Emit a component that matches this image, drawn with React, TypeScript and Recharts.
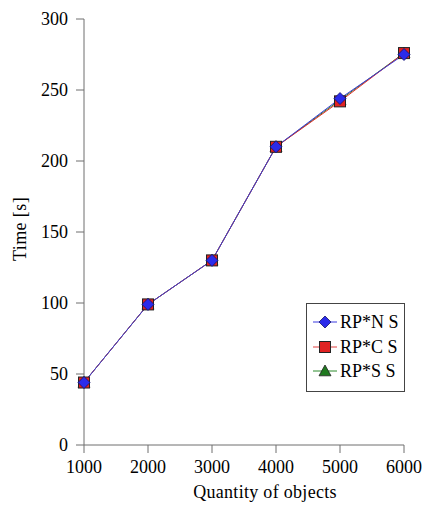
import React from 'react';
import { LineChart, Line, XAxis, YAxis } from 'recharts';

const quantities = [1000, 2000, 3000, 4000, 5000, 6000];
const rpNS = [44, 99, 130, 210, 244, 275];
const rpCS = [44, 99, 130, 210, 242, 276];
const rpSS = [44, 99, 130, 210, 243, 276];
const xTicks = [1000, 2000, 3000, 4000, 5000, 6000];
const yTicks = [0, 50, 100, 150, 200, 250, 300];

const data = quantities.map((q, i) => ({ qty: q, ns: rpNS[i], cs: rpCS[i], ss: rpSS[i] }));

const FONT = '"Liberation Serif", serif';
const AXIS = '#6e6e6e';

const Diamond = (props: any) => {
  const { cx, cy } = props;
  if (cx == null || cy == null) return null;
  const r = 6;
  return (
    <path
      d={`M${cx},${cy - r} L${cx + r},${cy} L${cx},${cy + r} L${cx - r},${cy} Z`}
      fill="#2b2bea"
      stroke="#14146a"
      strokeWidth={0.8}
    />
  );
};

const Square = (props: any) => {
  const { cx, cy } = props;
  if (cx == null || cy == null) return null;
  const r = 5.5;
  return <rect x={cx - r} y={cy - r} width={r * 2} height={r * 2} fill="#e02222" stroke="#222" strokeWidth={1} />;
};

const Triangle = (props: any) => {
  const { cx, cy } = props;
  if (cx == null || cy == null) return null;
  const r = 6;
  return (
    <path
      d={`M${cx},${cy - r} L${cx + r},${cy + r * 0.8} L${cx - r},${cy + r * 0.8} Z`}
      fill="#1f7a1f"
      stroke="#222"
      strokeWidth={0.8}
    />
  );
};

const XTick = (props: any) => {
  const { x, y, payload } = props;
  return (
    <text x={x} y={y + 13} textAnchor="middle" style={{ fontFamily: FONT, fontSize: 18 }} fill="#000">
      {payload.value}
    </text>
  );
};

const YTick = (props: any) => {
  const { x, y, payload } = props;
  return (
    <text x={x - 1} y={y} dy={6} textAnchor="end" style={{ fontFamily: FONT, fontSize: 18 }} fill="#000">
      {payload.value}
    </text>
  );
};

const XLabel = (props: any) => {
  const { viewBox } = props;
  if (!viewBox) return null;
  return (
    <text
      x={viewBox.x + viewBox.width / 2 + 21}
      y={viewBox.y + viewBox.height - 11}
      textAnchor="middle"
      style={{ fontFamily: FONT, fontSize: 18, letterSpacing: 0.3 }}
      fill="#000"
    >
      Quantity of objects
    </text>
  );
};

const YLabel = (props: any) => {
  const { viewBox } = props;
  if (!viewBox) return null;
  const cx = 20;
  const cy = viewBox.y + viewBox.height / 2 - 3;
  return (
    <text
      x={cx}
      y={cy}
      transform={`rotate(-90 ${cx} ${cy})`}
      textAnchor="middle"
      dominantBaseline="central"
      style={{ fontFamily: FONT, fontSize: 18, letterSpacing: 0.4 }}
      fill="#000"
    >
      Time [s]
    </text>
  );
};

const legendItems = [
  { name: 'RP*N S', color: '#3a3ae0', Marker: Diamond },
  { name: 'RP*C S', color: '#e04040', Marker: Square },
  { name: 'RP*S S', color: '#2a8a2a', Marker: Triangle },
];

const ChartLegend = () => (
  <div
    style={{
      position: 'absolute',
      left: 306,
      top: 303,
      width: 97,
      height: 81,
      border: '1px solid #444',
      background: '#fff',
      paddingTop: 6,
    }}
  >
    {legendItems.map((item) => (
      <div key={item.name} style={{ display: 'flex', alignItems: 'center', height: 24.5 }}>
        <svg width={30} height={20} style={{ display: 'block', marginLeft: 3 }}>
          <line x1={3} y1={10} x2={27} y2={10} stroke={item.color} strokeWidth={1} />
          <item.Marker cx={15} cy={10} />
        </svg>
        <span style={{ fontFamily: FONT, fontSize: 18, color: '#000', lineHeight: '20px' }}>{item.name}</span>
      </div>
    ))}
  </div>
);

export default function App() {
  return (
    <div style={{ position: 'absolute', left: 0, top: 0, width: 425, height: 509, background: '#fff', fontFamily: FONT }}>
      <LineChart width={425} height={509} data={data} margin={{ top: 19, right: 21, bottom: 0, left: 0 }}>
        <XAxis
          dataKey="qty"
          type="number"
          domain={[1000, 6000]}
          ticks={xTicks}
          height={64}
          stroke={AXIS}
          tickSize={8}
          tickMargin={7}
          tick={<XTick />}
          label={<XLabel />}
        />
        <YAxis
          type="number"
          domain={[0, 300]}
          ticks={yTicks}
          width={84}
          stroke={AXIS}
          tickSize={8}
          tickMargin={7}
          tick={<YTick />}
          label={<YLabel />}
        />
        <Line dataKey="ss" stroke="#2a8a2a" strokeWidth={1} dot={<Triangle />} activeDot={false} isAnimationActive={false} />
        <Line dataKey="cs" stroke="#e02828" strokeWidth={1} dot={<Square />} activeDot={false} isAnimationActive={false} />
        <Line dataKey="ns" stroke="#3a3ad8" strokeWidth={1} dot={<Diamond />} activeDot={false} isAnimationActive={false} />
      </LineChart>
      <ChartLegend />
    </div>
  );
}
